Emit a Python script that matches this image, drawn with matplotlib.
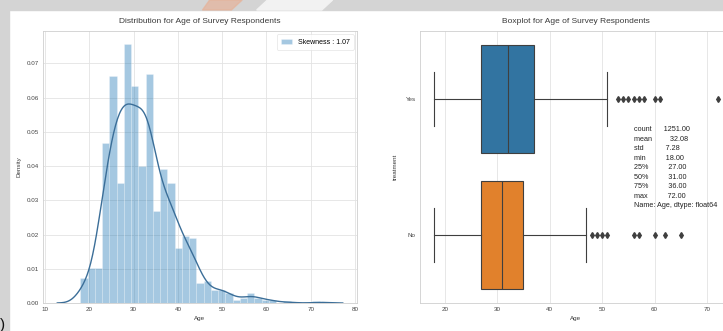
import numpy as np
import matplotlib.pyplot as plt
from matplotlib.patches import Rectangle, Polygon

plt.rcParams['font.family'] = ['Liberation Sans Narrow', 'Liberation Sans', 'DejaVu Sans']

# respondents per age (18..72)
ages = np.arange(18, 73)
counts = [7, 8, 6, 15, 21, 50, 46, 60, 76, 72,
          68, 87, 64, 66, 82, 71, 66, 55, 37, 43,
          39, 33, 33, 21, 19, 28, 11, 12, 8, 5,
          4, 4, 8, 3, 3, 2, 1, 2, 3, 3,
          3, 0, 2, 1, 1, 0, 0, 1, 0, 0,
          0, 0, 0, 0, 1]
age_data = np.repeat(ages, counts)
skewness = 1.07
n_bins = 33

# describe() of the Age column
stat_names = ['count', 'mean', 'std', 'min', '25%', '50%', '75%', 'max']
stat_values = [1251.00, 32.08, 7.28, 18.00, 27.00, 31.00, 36.00, 72.00]

# boxplot summaries by treatment
groups = ['Yes', 'No']
q1 = [27, 27]
medians = [32, 31]
q3 = [37, 35]
whis_lo = [18, 18]
whis_hi = [51, 47]
fliers = [[53, 54, 55, 56, 57, 58, 60, 61, 72],
          [48, 49, 50, 51, 56, 57, 60, 62, 65]]
box_colors = ['#3274a1', '#e1812c']

fig = plt.figure(figsize=(7.23, 3.31), dpi=100)
fig.patches.append(Rectangle((0, 1 - 10 / 331), 1, 10 / 331, transform=fig.transFigure,
                             color='#d4d4d4', zorder=-2))
fig.patches.append(Rectangle((0, 0), 9 / 723, 1, transform=fig.transFigure,
                             color='#d4d4d4', zorder=-2))
fig.patches.append(Polygon([(0.29, 1), (0.335, 1), (0.32, 1 - 10 / 331), (0.28, 1 - 10 / 331)],
                           closed=True, transform=fig.transFigure, color='#e6b39a',
                           alpha=0.7, zorder=-1))
fig.patches.append(Polygon([(0.37, 1), (0.46, 1), (0.445, 1 - 10 / 331), (0.355, 1 - 10 / 331)],
                           closed=True, transform=fig.transFigure, color='#f2f2f2', zorder=-1))
fig.text(0.0, 0.005, ')', fontsize=11, color='#111111')

text_c = '#3a3a3a'
grid_c = '#e3e3e3'
spine_c = '#cfcfcf'


def style_axes(ax):
    ax.set_facecolor('white')
    for s in ax.spines.values():
        s.set_color(spine_c)
        s.set_linewidth(0.6)
    ax.tick_params(length=0, labelsize=4.5, labelcolor='#444444', pad=3)
    ax.set_axisbelow(True)


# --- histogram with kde ---
ax1 = fig.add_axes([0.0595, 0.0846, 0.4343, 0.822])
style_axes(ax1)
ax1.grid(True, color=grid_c, linewidth=0.6)
ax1.hist(age_data, bins=n_bins, density=True, color='#1f77b4', alpha=0.4,
         edgecolor='white', linewidth=0.4, label='Skewness : {:.2f}'.format(skewness))

bw = age_data.std() * len(age_data) ** (-1 / 5)
grid_x = np.linspace(age_data.min() - 3 * bw, age_data.max() + 3 * bw, 300)
kde = np.exp(-0.5 * ((grid_x[:, None] - age_data[None, :]) / bw) ** 2).sum(axis=1)
kde /= len(age_data) * bw * np.sqrt(2 * np.pi)
ax1.plot(grid_x, kde, color='#3b6e98', linewidth=1.0)

ax1.set_title('Distribution for Age of Survey Respondents', fontsize=6, color=text_c, pad=6)
ax1.set_xlabel('Age', fontsize=4.5, color=text_c, labelpad=3)
ax1.set_ylabel('Density', fontsize=4.5, color=text_c, labelpad=4)
leg = ax1.legend(loc='upper right', fontsize=5, frameon=True, fancybox=True,
                 handlelength=1.6, borderpad=0.6)
leg.get_frame().set_edgecolor('#dddddd')
leg.get_frame().set_linewidth(0.5)

# --- boxplot by treatment ---
ax2 = fig.add_axes([0.581, 0.0846, 0.431, 0.822])
style_axes(ax2)
ax2.xaxis.grid(True, color=grid_c, linewidth=0.6)
ax2.yaxis.grid(False)

stats = []
for i, g in enumerate(groups):
    stats.append(dict(label=g, med=medians[i], q1=q1[i], q3=q3[i],
                      whislo=whis_lo[i], whishi=whis_hi[i], fliers=fliers[i]))
line_c = '#3f3f3f'
bp = ax2.bxp(stats, positions=range(len(groups)), widths=0.8, orientation='horizontal',
             patch_artist=True, showfliers=True,
             boxprops=dict(edgecolor=line_c, linewidth=0.8),
             medianprops=dict(color=line_c, linewidth=0.8),
             whiskerprops=dict(color=line_c, linewidth=0.8),
             capprops=dict(color=line_c, linewidth=0.8),
             capwidths=0.4,
             flierprops=dict(marker='d', markersize=3, markerfacecolor=line_c,
                             markeredgecolor=line_c, linestyle='none'))
for patch, c in zip(bp['boxes'], box_colors):
    patch.set_facecolor(c)
ax2.set_ylim(1.5, -0.5)

lines = ['{:<8}{:>10.2f}'.format(k, v) for k, v in zip(stat_names, stat_values)]
lines.append('Name: Age, dtype: float64')
ax2.text(56, 0.2, '\n'.join(lines), fontsize=5.2, color='#222222', va='top',
         linespacing=1.5)

ax2.set_title('Boxplot for Age of Survey Respondents', fontsize=6, color=text_c, pad=6)
ax2.set_xlabel('Age', fontsize=4.5, color=text_c, labelpad=3)
ax2.set_ylabel('treatment', fontsize=4.5, color=text_c, labelpad=6)

fig.savefig('out.png', dpi=100, facecolor='white')
